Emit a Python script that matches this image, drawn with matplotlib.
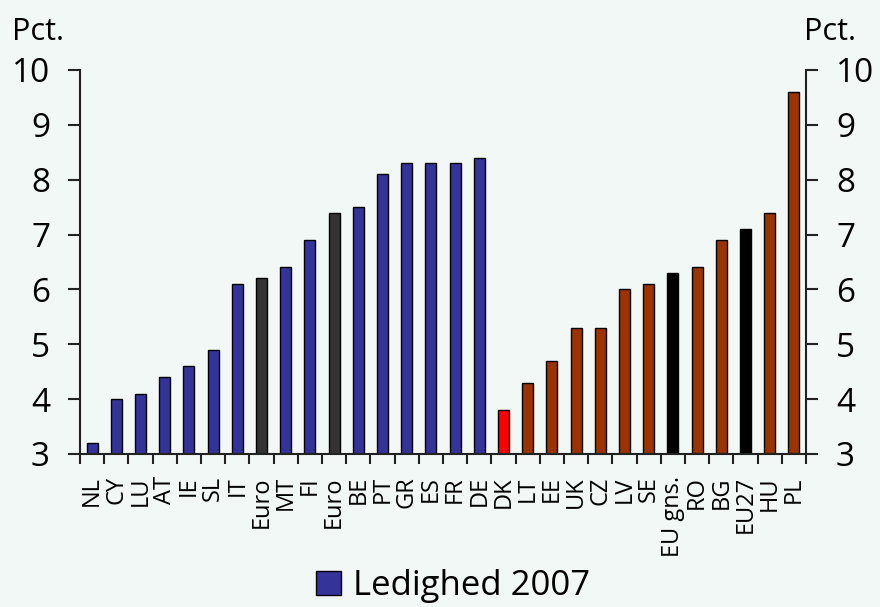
import numpy as np
import matplotlib.pyplot as plt
from matplotlib.ticker import FixedLocator

countries = ["NL", "CY", "LU", "AT", "IE", "SL", "IT", "Euro", "MT", "FI", "Euro",
             "BE", "PT", "GR", "ES", "FR", "DE", "DK", "LT", "EE", "UK", "CZ", "LV",
             "SE", "EU gns.", "RO", "BG", "EU27", "HU", "PL"]
unemployment = [3.2, 4.0, 4.1, 4.4, 4.6, 4.9, 6.1, 6.2, 6.4, 6.9, 7.4,
                7.5, 8.1, 8.3, 8.3, 8.3, 8.4, 3.8, 4.3, 4.7, 5.3, 5.3, 6.0,
                6.1, 6.3, 6.4, 6.9, 7.1, 7.4, 9.6]
# group: euro members, euro avg, denmark, non-euro, eu avg
groups = ["m", "m", "m", "m", "m", "m", "m", "ea", "m", "m", "ea",
          "m", "m", "m", "m", "m", "m", "dk", "n", "n", "n", "n", "n",
          "n", "eu", "n", "n", "eu", "n", "n"]
group_colors = {"m": "#333399", "ea": "#333333", "dk": "#ff0000",
                "n": "#993300", "eu": "#000000"}

plt.rcParams['font.family'] = ['Open Sans', 'DejaVu Sans']
bg = "#f1f8f5"

def main():
    fig = plt.figure(figsize=(8.8, 6.07), dpi=100, facecolor=bg)
    ax = fig.add_axes([80 / 880, 153 / 607, 726 / 880, 384 / 607], facecolor=bg)

    x = np.arange(len(countries))
    colors = [group_colors[g] for g in groups]
    bars = ax.bar(x, unemployment, width=0.45, bottom=0, color=colors,
                  edgecolor="black", linewidth=1.0, label="Ledighed 2007")

    ax.set_ylim(3, 10)
    ax.set_xlim(-0.5, len(countries) - 0.5)
    ax.set_yticks(range(3, 11))
    ax.tick_params(axis="y", which="both", direction="out", length=8.6, width=1.5,
                   color="#222222", left=True, right=True, labelleft=True,
                   labelright=True, labelsize=24, pad=13)

    ax.set_xticks(x)
    ax.set_xticklabels(countries, rotation=90, fontsize=17, va="top", ha="center")
    ax.xaxis.set_minor_locator(FixedLocator(np.arange(-0.5, len(countries), 1.0)))
    ax.tick_params(axis="x", which="major", length=0, pad=16)
    ax.tick_params(axis="x", which="minor", direction="out", length=7.2, width=1.5,
                   color="#222222")

    for side in ["left", "right", "bottom"]:
        ax.spines[side].set_linewidth(1.5)
        ax.spines[side].set_color("#222222")
    ax.spines["top"].set_visible(False)

    fig.text(12 / 880, 1 - 40 / 607, "Pct.", fontsize=22, va="baseline", ha="left")
    fig.text(856 / 880, 1 - 40 / 607, "Pct.", fontsize=22, va="baseline", ha="right")

    fig.legend(handles=[bars[0]], labels=["Ledighed 2007"], loc="lower center",
               bbox_to_anchor=(0.515, -0.045), frameon=False, fontsize=25,
               handlelength=0.7, handleheight=0.7, handletextpad=0.35)

    fig.savefig("out.png", dpi=100, facecolor=bg)

if __name__ == "__main__":
    main()
